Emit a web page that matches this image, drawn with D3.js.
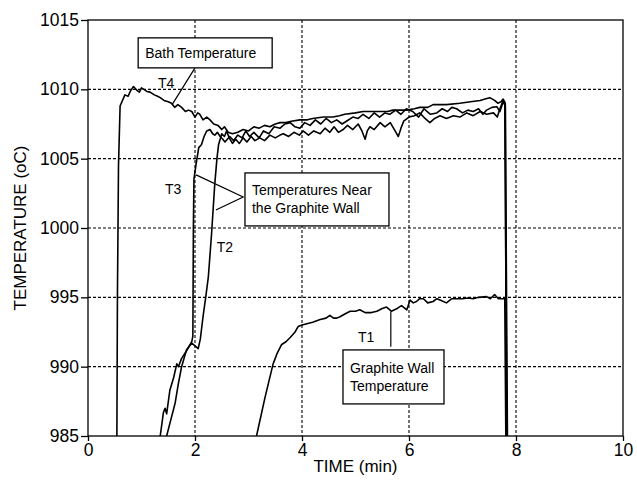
<!doctype html>
<html lang="en">
<head>
    <title></title>
    <script src="https://d3js.org/d3.v7.min.js"></script>
    <style type="text/css">
    body { margin:0; background:#fff; }
    text { font-family:"Liberation Sans", Arial, Helvetica, sans-serif; fill:#000; }
    .grid line { stroke:#000; stroke-width:1.1; stroke-dasharray:3,2; }
    .axis path, .axis line { stroke:#000; stroke-width:1.3; }
    .axis text { font-size:17.5px; }
    .trace { fill:none; stroke:#000; stroke-width:1.6; stroke-linejoin:round; }
    .note rect { fill:#fff; stroke:#000; stroke-width:1.3; }
    .note text { font-size:14px; }
    .leader { stroke:#000; stroke-width:1.2; fill:none; }
    .tag { font-size:14px; }
    </style>
</head>

<body>
</body>

<script type="text/javascript">

  // axis ticks
  var timeTicks = [0, 2, 4, 6, 8, 10]
  var tempTicks = [985, 990, 995, 1000, 1005, 1010, 1015]

  // T4 - bath temperature [time (min), temp (oC)]
  var t4 = [[0.54,985],[0.55,995],[0.57,1004.5],[0.6,1008.8],[0.69,1009.6],[0.75,1009.5],[0.79,1009.85],
    [0.85,1010.2],[0.91,1009.95],[0.96,1009.8],[1.0,1010.1],[1.1,1009.85],[1.16,1009.8],[1.24,1009.6],
    [1.3,1009.5],[1.35,1009.4],[1.42,1009.2],[1.5,1009.1],[1.56,1009.0],[1.62,1008.7],[1.68,1008.9],
    [1.75,1008.7],[1.82,1008.4],[1.88,1008.5],[1.94,1008.4],[2.0,1008.0],[2.05,1008.3],[2.09,1008.2],
    [2.15,1007.8],[2.22,1008.0],[2.28,1007.8],[2.35,1007.5],[2.43,1007.4],[2.5,1007.1],[2.55,1007.3],
    [2.62,1006.9],[2.7,1006.8],[2.8,1006.9],[2.9,1007.1],[3.0,1007.0],[3.1,1007.3],[3.2,1007.2],
    [3.3,1007.4],[3.4,1007.3],[3.5,1007.5],[3.59,1007.6],[3.7,1007.6],[3.8,1007.7],[3.96,1007.8],
    [4.1,1007.8],[4.2,1007.9],[4.4,1008.0],[4.58,1008.0],[4.7,1008.1],[4.8,1008.2],[5.0,1008.3],
    [5.14,1008.4],[5.3,1008.4],[5.46,1008.4],[5.6,1008.4],[5.7,1008.5],[5.96,1008.5],[6.1,1008.6],
    [6.2,1008.7],[6.35,1008.7],[6.45,1008.9],[6.7,1008.9],[6.95,1009.0],[7.15,1009.1],[7.33,1009.2],
    [7.42,1009.3],[7.51,1009.4],[7.6,1009.2],[7.66,1009.0],[7.72,1009.1],[7.76,1009.3],[7.8,1009.0],[7.82,985]]

  // T3 - near graphite wall
  var t3 = [[1.35,985],[1.41,986.7],[1.44,987.0],[1.47,986.6],[1.53,988.3],[1.6,989.2],[1.66,990.2],
    [1.69,990.0],[1.75,990.6],[1.82,991.0],[1.88,991.4],[1.94,991.8],[1.96,992.2],[1.97,1000],
    [1.98,1003.5],[2.02,1004.6],[2.07,1005.8],[2.12,1006.0],[2.17,1006.6],[2.22,1007.0],[2.28,1007.1],
    [2.33,1006.8],[2.37,1006.7],[2.42,1006.9],[2.47,1006.6],[2.52,1006.4],[2.56,1006.2],[2.65,1006.6],
    [2.72,1006.3],[2.8,1006.7],[2.88,1006.5],[2.95,1007.0],[3.02,1006.6],[3.1,1006.9],[3.2,1006.5],
    [3.28,1007.0],[3.38,1006.8],[3.48,1007.3],[3.59,1007.2],[3.68,1007.5],[3.78,1007.6],[3.87,1007.3],
    [3.96,1007.2],[4.05,1007.6],[4.15,1007.4],[4.25,1007.8],[4.35,1007.5],[4.45,1007.9],[4.55,1007.6],
    [4.65,1007.8],[4.75,1007.5],[4.83,1007.7],[4.95,1008.0],[5.05,1007.9],[5.14,1008.2],[5.25,1007.9],
    [5.35,1008.3],[5.45,1008.0],[5.55,1008.3],[5.64,1008.2],[5.75,1008.5],[5.85,1008.2],[5.95,1008.6],
    [6.07,1008.4],[6.18,1008.0],[6.28,1008.6],[6.4,1008.2],[6.52,1008.3],[6.62,1008.6],[6.72,1008.4],
    [6.8,1008.7],[6.89,1008.6],[7.0,1008.3],[7.1,1008.5],[7.2,1008.4],[7.3,1008.6],[7.38,1008.2],
    [7.45,1008.5],[7.55,1008.7],[7.64,1008.75],[7.7,1008.4],[7.76,1009.1],[7.79,1008.9],[7.83,985]]

  // T2 - near graphite wall
  var t2 = [[1.47,985],[1.55,986.2],[1.63,987.4],[1.69,988.8],[1.75,990.0],[1.84,991.2],[1.94,991.7],
    [2.0,991.5],[2.06,991.3],[2.1,992.0],[2.15,993.6],[2.2,995.0],[2.25,996.5],[2.31,999.6],[2.37,1003.2],
    [2.41,1005.0],[2.44,1006.0],[2.47,1006.4],[2.5,1006.8],[2.55,1006.6],[2.59,1007.0],[2.64,1006.5],
    [2.7,1006.1],[2.76,1006.4],[2.83,1006.1],[2.9,1006.5],[2.97,1006.2],[3.05,1006.6],[3.12,1006.3],
    [3.21,1006.5],[3.3,1006.3],[3.4,1006.7],[3.5,1006.5],[3.59,1006.7],[3.65,1006.8],[3.75,1006.6],
    [3.85,1006.9],[3.95,1006.7],[4.02,1007.0],[4.12,1006.7],[4.22,1007.0],[4.34,1006.8],[4.43,1007.2],
    [4.52,1006.9],[4.6,1007.3],[4.68,1006.9],[4.77,1007.1],[4.85,1007.4],[4.95,1007.1],[5.05,1007.5],
    [5.12,1007.0],[5.18,1006.4],[5.22,1007.0],[5.27,1007.3],[5.35,1007.1],[5.46,1007.6],[5.55,1007.3],
    [5.65,1007.6],[5.74,1007.0],[5.8,1006.6],[5.85,1007.2],[5.9,1007.7],[6.0,1008.0],[6.1,1008.1],
    [6.2,1008.3],[6.3,1007.9],[6.39,1007.6],[6.48,1007.9],[6.58,1008.1],[6.7,1007.9],[6.83,1008.1],
    [6.95,1008.0],[7.08,1008.3],[7.2,1008.1],[7.33,1008.4],[7.45,1008.2],[7.58,1008.3],[7.65,1008.0],
    [7.7,1008.6],[7.76,1009.2],[7.8,1008.8],[7.84,985]]

  // T1 - graphite wall temperature
  var t1 = [[3.15,985],[3.31,987.8],[3.46,990.2],[3.54,991.0],[3.62,991.6],[3.7,991.8],[3.78,992.1],
    [3.87,992.5],[3.93,992.9],[4.0,993.0],[4.09,993.1],[4.2,993.2],[4.34,993.4],[4.45,993.5],[4.52,993.7],
    [4.59,993.5],[4.65,993.5],[4.71,993.6],[4.8,993.8],[4.9,994.0],[5.0,994.0],[5.08,994.1],[5.18,993.9],
    [5.3,993.9],[5.4,994.0],[5.5,994.2],[5.58,994.3],[5.67,994.0],[5.78,994.2],[5.86,994.4],[5.96,994.1],
    [6.02,994.8],[6.08,994.6],[6.14,994.7],[6.2,994.9],[6.27,994.9],[6.35,994.6],[6.45,994.7],[6.52,994.9],
    [6.58,994.8],[6.7,994.6],[6.8,994.9],[6.89,994.9],[7.0,994.9],[7.1,994.95],[7.2,994.9],[7.3,995.0],
    [7.45,995.05],[7.52,994.9],[7.6,995.2],[7.67,994.9],[7.73,994.9],[7.79,994.9],[7.81,985]]

  var margin = {top:20, bottom:50, left:88, right:14};
  var width  = 637 - margin.left - margin.right;
  var height = 486 - margin.top  - margin.bottom;

  var xScale = d3.scaleLinear()
    .domain([0,10])
    .range([0,width])

  var yScale = d3.scaleLinear()
    .domain([985,1015])
    .range([height,0])

  var svg = d3.select("body")
  .append("svg")
  .attr("width", 637)
  .attr("height", 486)
  .append("g")
  .attr("transform", "translate("+margin.left+","+margin.top+")");

  svg.append("clipPath").attr("id","plot")
  .append("rect").attr("width",width).attr("height",height)

  // dotted grid
  svg.append("g").attr("class","grid")
  .selectAll("line").data(timeTicks.slice(1,-1)).enter()
  .append("line")
  .attr("x1",d=>xScale(d)).attr("x2",d=>xScale(d))
  .attr("y1",0).attr("y2",height)

  svg.append("g").attr("class","grid")
  .selectAll("line").data(tempTicks.slice(1,-1)).enter()
  .append("line")
  .attr("y1",d=>yScale(d)).attr("y2",d=>yScale(d))
  .attr("x1",0).attr("x2",width)

  var line = d3.line()
  .x(d=>xScale(d[0]))
  .y(d=>yScale(d[1]))

  svg.append("g").attr("clip-path","url(#plot)")
  .selectAll(".trace")
  .data([t1,t2,t3,t4])
  .enter()
  .append("path")
  .attr("class","trace")
  .attr("d",d=>line(d))

  // frame
  svg.append("rect")
  .attr("width",width).attr("height",height)
  .style("fill","none").style("stroke","#000").style("stroke-width",1.3)

  svg.append("g")
  .attr("class","axis")
  .attr("transform","translate(0,"+height+")")
  .call(d3.axisBottom(xScale).tickValues(timeTicks).tickFormat(d3.format("d")).tickSize(5).tickSizeOuter(0).tickPadding(3))

  svg.append("g")
  .attr("class","axis")
  .call(d3.axisLeft(yScale).tickValues(tempTicks).tickFormat(d3.format("d")).tickSize(7).tickSizeOuter(0).tickPadding(2))

  svg.selectAll(".axis .domain").remove()

  svg.append("text")
  .attr("x",width/2).attr("y",height+36)
  .attr("text-anchor","middle")
  .style("font-size","17px")
  .text("TIME (min)")

  svg.append("text")
  .attr("transform","translate("+(-68)+","+(height/2)+") rotate(-90)")
  .attr("text-anchor","middle")
  .attr("dy","0.35em")
  .style("font-size","17px")
  .text("TEMPERATURE (oC)")

  // annotation boxes
  function note(cx, cy, w, h, lines){
    var g = svg.append("g").attr("class","note")
    g.append("rect")
    .attr("x",xScale(cx)-w/2).attr("y",yScale(cy)-h/2)
    .attr("width",w).attr("height",h)
    g.selectAll("text").data(lines).enter()
    .append("text")
    .attr("x",xScale(cx)-w/2+7)
    .attr("y",(d,i)=>yScale(cy)+(i-(lines.length-1)/2)*18)
    .attr("dy","0.35em")
    .text(d=>d)
  }

  function leader(pts){
    svg.append("path").attr("class","leader")
    .attr("d",line(pts))
  }

  function tag(t, v, s){
    svg.append("text").attr("class","tag")
    .attr("x",xScale(t)).attr("y",yScale(v))
    .attr("text-anchor","middle").attr("dy","0.35em")
    .text(s)
  }

  leader([[2.0,1011.55],[1.57,1008.88]])
  note(2.19, 1012.63, 134, 30, ["Bath Temperature"])
  tag(1.46, 1010.47, "T4")

  leader([[2.02,1003.83],[2.90,1002.24],[2.39,1001.3]])
  note(4.28, 1002.06, 144, 53, ["Temperatures Near","the Graphite Wall"])
  tag(1.59, 1002.82, "T3")
  tag(2.56, 998.64, "T2")

  leader([[5.66,993.97],[5.66,991.44]])
  note(5.71, 989.26, 101, 54, ["Graphite Wall","Temperature"])
  tag(5.2, 992.14, "T1")

</script>
</html>
